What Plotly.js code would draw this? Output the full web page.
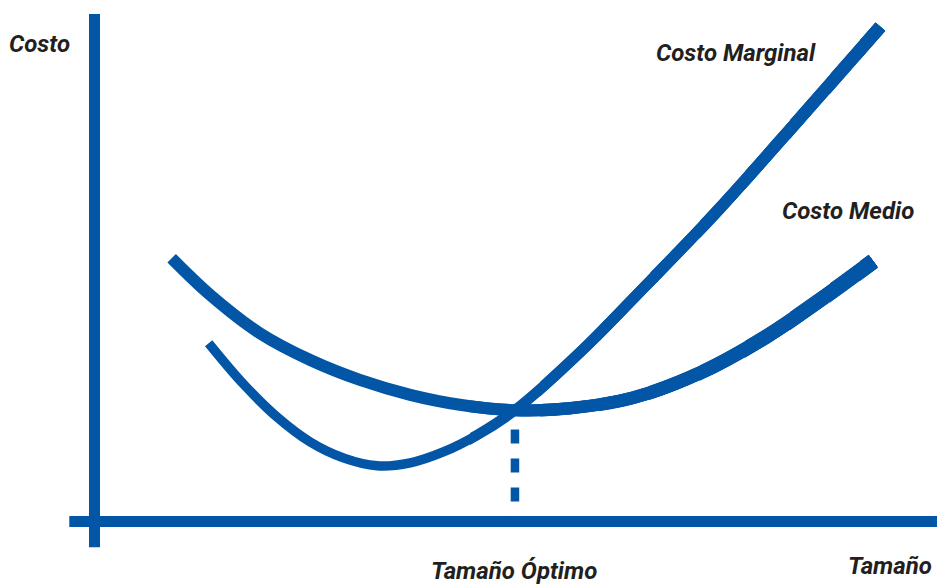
<!DOCTYPE html>
<html>
<head>
<meta charset="utf-8">
<script src="https://cdn.plot.ly/plotly-3.0.1.min.js"></script>
<style>
  html, body { margin: 0; padding: 0; background: #ffffff; }
  #grafico { width: 937px; height: 586px; }
</style>
</head>
<body>
<div id="grafico"></div>
<script>
// Curva de costo medio (forma de U)
const tamanoMedio = [9.8, 14.7, 21.0, 27.4, 33.7, 40.1, 46.4, 53.4, 60.4, 68.4, 76.9, 85.4, 91.8, 98.9];
const costoMedio  = [53.0, 45.6, 37.9, 32.5, 28.5, 25.5, 23.5, 22.4, 22.8, 24.9, 29.9, 37.3, 44.2, 52.4];

// Curva de costo marginal
const tamanoMarginal = [14.5, 18.9, 23.2, 27.4, 31.6, 35.9, 40.1, 44.3, 48.6, 53.4, 61.7, 70.2, 79.2, 89.6, 99.8];
const costoMarginal  = [35.9, 27.7, 21.0, 16.0, 12.8, 11.2, 11.8, 14.0, 17.4, 22.4, 34.1, 47.8, 62.7, 81.2, 99.6];

// Punto de tamaño óptimo: el marginal corta al medio en su mínimo
const tamanoOptimo = 53.4;
const costoOptimo = 22.4;

// Textos
const tituloCosto = 'Costo';
const tituloTamano = 'Tamaño';
const rotuloMarginal = 'Costo Marginal';
const rotuloMedio = 'Costo Medio';
const rotuloOptimo = 'Tamaño Óptimo';

const AZUL = '#0356a5';
const TINTA = '#231f20';
const fuente = {
  family: 'Roboto, "Liberation Sans", sans-serif',
  size: 24, weight: 'bold', style: 'italic', color: TINTA
};

// Escala común de los ejes
const RANGO_X = [-12, 107];
const RANGO_Y = [-13, 105];
const ANCHO = 937;

// El trazo se engrosa hacia la derecha: cada nivel repite la curva entera en un
// eje x con la misma escala pero con dominio recortado, así el tramo más grueso
// solo se ve a partir de su corte y la geometría del spline es idéntica.
const cortes = [0, 470, 540, 600, 650, 700, 745, 790, 830, 860];   // píxel donde empieza cada nivel
const grosorMedio    = [12, 12, 12.5, 13, 13.5, 14, 14.5, 15, 15.5, 16];
const grosorMarginal = [9.5, 10.5, 11, 11, 11.5, 12, 12, 12.5, 13, 13];

const layout = {
  width: ANCHO, height: 586,
  margin: { l: 0, r: 0, t: 0, b: 0 },
  paper_bgcolor: '#ffffff', plot_bgcolor: 'rgba(0,0,0,0)',
  showlegend: false,
  yaxis: { range: RANGO_Y, visible: false, fixedrange: true, domain: [0, 1] },
  shapes: [
    // eje vertical (costo)
    { type: 'line', xref: 'x', yref: 'y', x0: 0, x1: 0, y0: -5.2, y1: 102.2,
      line: { color: AZUL, width: 11 }, layer: 'below' },
    // eje horizontal (tamaño)
    { type: 'line', xref: 'x', yref: 'y', x0: -3.2, x1: 107, y0: 0, y1: 0,
      line: { color: AZUL, width: 11 }, layer: 'below' }
  ],
  annotations: [
    { text: tituloCosto, x: 39, y: 44 },
    { text: rotuloMarginal, x: 736, y: 52.5 },
    { text: rotuloMedio, x: 848, y: 210.5 },
    { text: tituloTamano, x: 890, y: 566 },
    { text: rotuloOptimo, x: 514, y: 571 }
  ].map(a => ({
    text: a.text, xref: 'paper', yref: 'paper',
    x: a.x / ANCHO, y: 1 - a.y / 586,
    showarrow: false, xanchor: 'center', yanchor: 'middle', font: fuente
  }))
};

const trazas = [{
  type: 'scatter', mode: 'lines', name: rotuloOptimo,
  x: [tamanoOptimo, tamanoOptimo], y: [0, costoOptimo],
  xaxis: 'x', yaxis: 'y',
  line: { color: AZUL, width: 8.5, dash: '4px,16px,14px,15px,14px,15px,14px,16px' },
  hoverinfo: 'skip'
}];

cortes.forEach((px, k) => {
  const d = px / ANCHO;
  const nombreEje = k === 0 ? 'xaxis' : 'xaxis' + (k + 1);
  const refEje = k === 0 ? 'x' : 'x' + (k + 1);
  layout[nombreEje] = {
    domain: [d, 1],
    range: [RANGO_X[0] + d * (RANGO_X[1] - RANGO_X[0]), RANGO_X[1]],
    anchor: 'y', visible: false, fixedrange: true
  };
  trazas.push({
    type: 'scatter', mode: 'lines', name: rotuloMedio,
    x: tamanoMedio, y: costoMedio, xaxis: refEje, yaxis: 'y',
    line: { color: AZUL, width: grosorMedio[k], shape: 'spline', smoothing: 1 },
    hoverinfo: 'skip'
  });
  trazas.push({
    type: 'scatter', mode: 'lines', name: rotuloMarginal,
    x: tamanoMarginal, y: costoMarginal, xaxis: refEje, yaxis: 'y',
    line: { color: AZUL, width: grosorMarginal[k], shape: 'spline', smoothing: 1 },
    hoverinfo: 'skip'
  });
});

Plotly.newPlot('grafico', trazas, layout, { displayModeBar: false, staticPlot: true });
</script>
</body>
</html>
